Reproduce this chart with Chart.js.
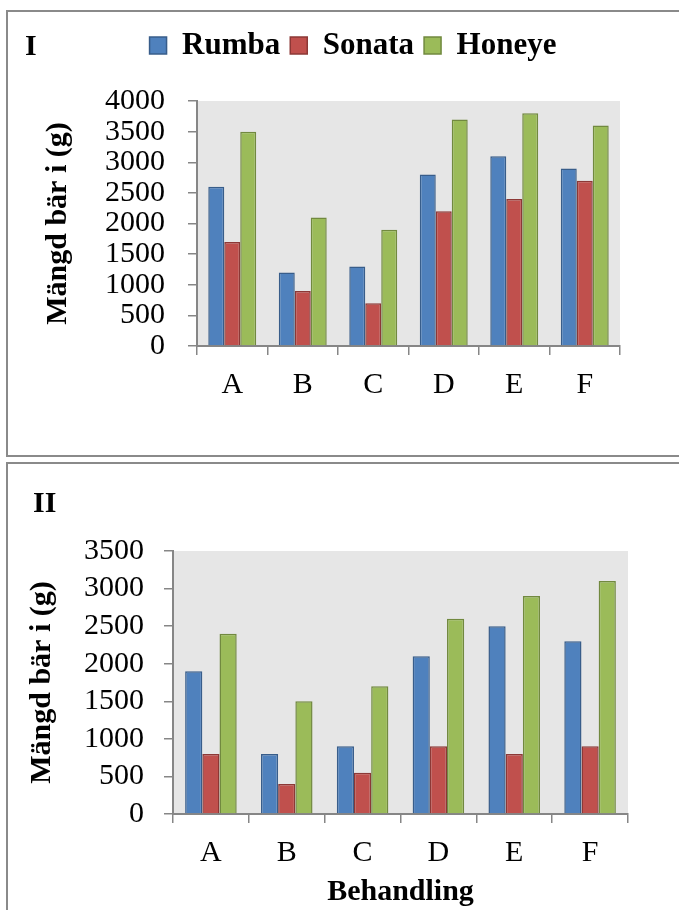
<!DOCTYPE html>
<html><head><meta charset="utf-8">
<script src="https://cdn.jsdelivr.net/npm/chart.js@4.4.1/dist/chart.umd.min.js"></script>
<style>
html,body{margin:0;padding:0;background:#fff;overflow:hidden;width:679px;height:910px;}
.panel{position:absolute;left:6px;width:700px;border:2px solid #8a8a8a;box-sizing:border-box;}
#p1{top:10px;height:447px;}
#p2{top:462px;height:470px;}
.tag{position:absolute;font:bold 30px 'Times New Roman','Liberation Serif',serif;line-height:36px;color:#000;}
canvas{position:absolute;left:0;}
</style></head><body>
<div class="panel" id="p1"></div><div class="panel" id="p2"></div>
<canvas id="c1" width="679" height="456" style="top:0"></canvas>
<canvas id="c2" width="679" height="454" style="top:456px"></canvas>
<div class="tag" style="left:25px;top:27px">I</div>
<div class="tag" style="left:33px;top:484px">II</div>
<script>
// Berry yield per treatment (g), two seasons
const categories = ['A', 'B', 'C', 'D', 'E', 'F'];
const seriesNames = ['Rumba', 'Sonata', 'Honeye'];

const rumbaI  = [2600, 1200, 1300, 2800, 3100, 2900];
const sonataI = [1700,  900,  700, 2200, 2400, 2700];
const honeyeI = [3500, 2100, 1900, 3700, 3800, 3600];

const rumbaII  = [1900,  800,  900, 2100, 2500, 2300];
const sonataII = [ 800,  400,  550,  900,  800,  900];
const honeyeII = [2400, 1500, 1700, 2600, 2900, 3100];

const yMaxI = 4000;
const yMaxII = 3500;
const yStep = 500;

const yTitle = 'Mängd bär i (g)';
const xTitle = 'Behandling';

const SERIF = "'Times New Roman', 'Liberation Serif', serif";
const fills   = ['#4F81BD', '#C0504D', '#9BBB59'];
const borders = ['#385D8A', '#8C3836', '#71893F'];
const axisGray = '#868686';

const plotBg = {
  id: 'plotBg',
  beforeDraw(chart) {
    const { ctx, chartArea: a } = chart;
    ctx.save();
    ctx.fillStyle = '#e6e6e6';
    ctx.fillRect(a.left, a.top, a.right - a.left, a.bottom - a.top);
    ctx.restore();
  }
};

function buildDatasets(series) {
  return series.map((vals, i) => ({
    label: seriesNames[i],
    data: vals,
    backgroundColor: fills[i],
    borderColor: borders[i],
    borderWidth: 1.5,
    borderSkipped: 'bottom',
    categoryPercentage: 0.68,
    barPercentage: 1.0
  }));
}

function makeChart(el, series, cfg) {
  return new Chart(el, {
    type: 'bar',
    data: { labels: categories, datasets: buildDatasets(series) },
    options: {
      responsive: false,
      animation: false,
      devicePixelRatio: 1,
      layout: { padding: cfg.padding },
      plugins: {
        legend: cfg.legend,
        title: cfg.spacer,
        tooltip: { enabled: false }
      },
      scales: {
        x: {
          grid: { display: true, drawOnChartArea: false, drawTicks: true, tickLength: 9, color: axisGray, lineWidth: 1.5 },
          border: { display: true, color: axisGray, width: 2 },
          ticks: { color: '#000', padding: 12, font: { family: SERIF, size: 30 } },
          title: cfg.xTitle,
          afterFit(s) { s.height = cfg.xHeight; }
        },
        y: {
          min: 0,
          max: cfg.yMax,
          ticks: {
            stepSize: yStep,
            autoSkip: false,
            color: '#000',
            padding: cfg.yTickPad,
            font: { family: SERIF, size: 30 },
            callback: v => String(v)
          },
          grid: { display: true, drawOnChartArea: false, drawTicks: true, tickLength: 9, color: axisGray, lineWidth: 1.5 },
          border: { display: true, color: axisGray, width: 2 },
          title: {
            display: true,
            text: yTitle,
            color: '#000',
            padding: { top: cfg.yTitlePad, bottom: 0 },
            font: { family: SERIF, size: 30, weight: 'bold' }
          },
          afterFit(s) { s.width = cfg.yWidth; }
        }
      }
    },
    plugins: [plotBg]
  });
}

// Season I: legend on top, spacer below it
makeChart(document.getElementById('c1'), [rumbaI, sonataI, honeyeI], {
  padding: { left: 86, right: 59, top: 20, bottom: 0 },
  legend: {
    display: true,
    position: 'top',
    labels: {
      color: '#000',
      boxWidth: 17,
      boxHeight: 17,
      padding: 10,
      font: { family: SERIF, size: 31, weight: 'bold' }
    }
  },
  spacer: { display: true, text: '', weight: 500, padding: 0, font: { size: 30, lineHeight: 1 } },
  xTitle: { display: false },
  xHeight: 110,
  yMax: yMaxI,
  yTickPad: 23,
  yTitlePad: -46,
  yWidth: 197 - 86
});

// Season II
makeChart(document.getElementById('c2'), [rumbaII, sonataII, honeyeII], {
  padding: { left: 20, right: 51, top: 95, bottom: 0 },
  legend: { display: false },
  spacer: { display: false },
  xTitle: {
    display: true,
    text: xTitle,
    color: '#000',
    padding: { top: 0, bottom: 0 },
    font: { family: SERIF, size: 30, weight: 'bold' }
  },
  xHeight: 96,
  yMax: yMaxII,
  yTickPad: 20,
  yTitlePad: 4,
  yWidth: 173 - 20
});
</script>
</body></html>
